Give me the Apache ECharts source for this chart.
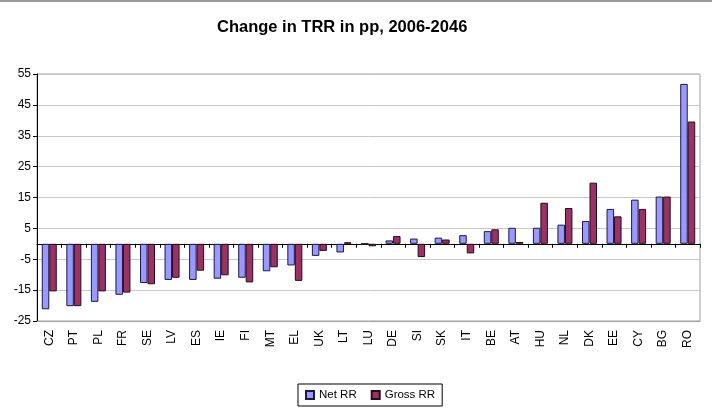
<!DOCTYPE html>
<html><head><meta charset="utf-8">
<script src="https://cdn.jsdelivr.net/npm/echarts@6/dist/echarts.min.js"></script>
<style>html,body{margin:0;padding:0;background:#fff}#c{width:712px;height:411px;box-sizing:border-box;border-top:2px solid #999}</style>
</head><body><div id="c"></div>
<script>
const categories = ['CZ','PT','PL','FR','SE','LV','ES','IE','FI','MT','EL','UK','LT','LU','DE','SI','SK','IT','BE','AT','HU','NL','DK','EE','CY','BG','RO'];
const netRR =   [-21.2,-20.2,-18.8,-16.5,-12.7,-11.7,-11.7,-11.3,-11.0,-8.9,-7.0,-3.9,-2.8,0.0,1.1,1.7,2.0,2.8,4.1,5.2,5.2,6.2,7.4,11.3,14.3,15.3,51.8];
const grossRR = [-15.4,-20.2,-15.4,-15.8,-13.1,-11.0,-8.7,-10.2,-12.5,-7.6,-12.0,-2.3,0.5,-0.8,2.5,-4.3,1.4,-3.1,4.7,0.6,13.3,11.6,19.8,8.9,11.3,15.3,39.6];
const yTicks = [-25,-15,-5,5,15,25,35,45,55];

const chart = echarts.init(document.getElementById('c'), null, {renderer:'canvas'});
const font = 'Arial, "Liberation Sans", sans-serif';
chart.setOption({
  animation:false,
  title:{text:'Change in TRR in pp, 2006-2046',left:212,top:12,textStyle:{fontFamily:font,fontSize:16.5,fontWeight:'bold',color:'#000'}},
  grid:{left:37,right:12,top:72,bottom:90,show:true,borderColor:'#a0a0a0',borderWidth:1},
  legend:{bottom:5,left:298,itemWidth:8,itemHeight:8,itemGap:14,padding:[5,7],borderColor:'#000',borderWidth:1,borderRadius:0,
    textStyle:{fontFamily:font,fontSize:11.5,color:'#000'},
    data:[{name:'Net RR',icon:'rect'},{name:'Gross RR',icon:'rect'}]},
  xAxis:[
    {type:'category',data:categories,position:'bottom',axisLine:{onZero:false,lineStyle:{color:'#a0a0a0'}},axisTick:{show:false},
     axisLabel:{rotate:90,fontFamily:font,fontSize:12,color:'#000',margin:9,interval:0}},
    {type:'category',data:categories,position:'bottom',axisLine:{onZero:true,lineStyle:{color:'#000',width:1}},
     axisTick:{show:true,length:4,lineStyle:{color:'#000'},interval:0},axisLabel:{show:false}}
  ],
  yAxis:{type:'value',min:-25,max:55,interval:10,
    axisLine:{show:true,lineStyle:{color:'#000'}},axisTick:{show:true,length:4,lineStyle:{color:'#000'}},
    axisLabel:{fontFamily:font,fontSize:12,color:'#000',margin:6,formatter:v=>yTicks.includes(v)?String(v):''},
    splitLine:{lineStyle:{color:'#c8c8c8'}}},
  series:[
    {name:'Net RR',type:'bar',data:netRR,barWidth:7.5,barGap:'0%',itemStyle:{color:'#9999FF',borderColor:'#1a1a40',borderWidth:1}},
    {name:'Gross RR',type:'bar',data:grossRR,barWidth:7.5,barGap:'0%',itemStyle:{color:'#993366',borderColor:'#2a0a18',borderWidth:1}}
  ]
});
</script></body></html>
